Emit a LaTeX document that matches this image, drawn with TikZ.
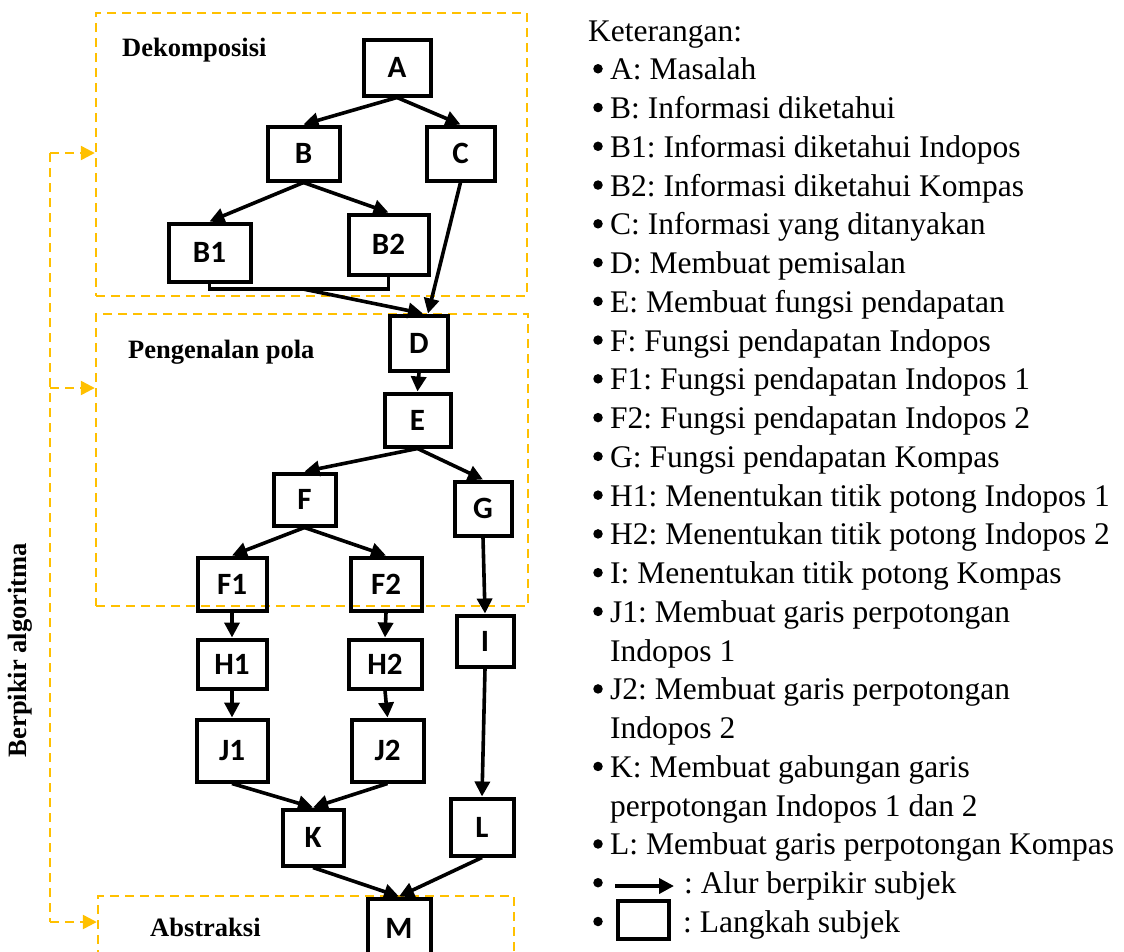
\documentclass[tikz,border=0pt]{standalone}
\usepackage{fontspec}
\setmainfont{Liberation Serif}
\newfontfamily\stepfont{Carlito}
\usetikzlibrary{arrows.meta}
\definecolor{phaseorange}{RGB}{255,192,0}
\frenchspacing

\begin{document}
\begin{tikzpicture}[
  x=1pt, y=-1pt,
  stepbox/.style={draw=black, line width=4pt, inner sep=0pt,
                  font=\stepfont\bfseries\fontsize{31}{31}\selectfont},
  phase/.style={draw=phaseorange, line width=2.4pt,
                dash pattern=on 9pt off 6pt, inner sep=0pt},
  phaselabel/.style={font=\bfseries\fontsize{26.5}{30}\selectfont,
                     anchor=base west, inner sep=0pt},
  flow/.style={-{Triangle[length=15pt,width=15pt]}, line width=3.6pt},
  joint/.style={line width=3.6pt},
  phasearrow/.style={-{Triangle[length=14pt,width=14pt]}, draw=phaseorange,
                     line width=2.4pt, dash pattern=on 9pt off 6pt},
  phaseline/.style={draw=phaseorange, line width=2.4pt,
                    dash pattern=on 9pt off 6pt},
  legend/.style={font=\fontsize{31.5}{38.76}\selectfont,
                 anchor=base west, inner sep=0pt},
  dot/.style={circle, fill=black, inner sep=0pt, minimum size=9.5pt}
]
\useasboundingbox (0,0) rectangle (1124,951);

% phases
\node[phase, minimum width=431, minimum height=283] (dekomp) at (311.5,154.5) {};
\node[phase, minimum width=432, minimum height=292] (pola) at (312,460) {};
\node[phase, minimum width=416, minimum height=74] (abstr) at (306,933) {};
\node[phaselabel] (dekomplabel) at (122,56) {Dekomposisi};
\node[phaselabel] (polalabel) at (128,358) {Pengenalan pola};
\node[phaselabel] (abstrlabel) at (150,936) {Abstraksi};
\node[font=\bfseries\fontsize{26.5}{30}\selectfont, rotate=90, inner sep=0pt]
  (algo) at (20,650) {Berpikir algoritma};

\coordinate (spinetop) at (50,153);
\coordinate (spinemid) at (50,388);
\coordinate (spinebot) at (50,922);
\draw[phaseline] (spinetop) -- (spinebot);
\draw[phasearrow] (spinetop) -- (dekomp.west |- spinetop);
\draw[phasearrow] (spinemid) -- (pola.west |- spinemid);
\draw[phasearrow] (spinebot) -- (abstr.west |- spinebot);

% steps
\foreach \name/\x/\y/\w/\h in {A/397/67.5/67/56, B/303.5/153.5/72/54,
    C/460.5/153.5/68/54, B1/209.5/252.5/82/58, B2/388.5/244.5/80/60,
    D/419/343/58/55, E/417.5/420/66/53, F/304.5/499.5/62/52,
    G/483/508.5/57/54, F1/232/584/69/53, F2/386/584/71/53,
    H1/232/664/69/49, H2/385/664/73/49, I/485/641/57/51,
    J1/232/750.5/71/62, J2/387.5/750.5/72/62, K/313/837.5/61/56,
    L/482/827/63/57, M/399/928/63/59}
  \node[stepbox, minimum width=\w, minimum height=\h] (\name) at (\x,\y) {\name};

\foreach \a/\b in {A/B, A/C, B/B1, B/B2, D/E, E/F, E/G, F/F1, F/F2, G/I,
    F1/H1, F2/H2, H1/J1, H2/J2, I/L, J1/K, J2/K, K/M, L/M}
  \draw[flow] (\a.south) -- (\b.north);

\coordinate (bjoin) at (303,289);
\draw[joint] (B1.south) |- (bjoin) -| (B2.south);
\draw[flow] (bjoin) -- ([xshift=4]D.north);
\draw[flow] (C.south) -- ([xshift=9]D.north);

% keterangan
\node[legend] (legtitle) at (588,41) {Keterangan:};
\foreach \k/\b/\txt in {1/1/{A: Masalah}, 2/1/{B: Informasi diketahui},
    3/1/{B1: Informasi diketahui Indopos}, 4/1/{B2: Informasi diketahui Kompas},
    5/1/{C: Informasi yang ditanyakan}, 6/1/{D: Membuat pemisalan},
    7/1/{E: Membuat fungsi pendapatan}, 8/1/{F: Fungsi pendapatan Indopos},
    9/1/{F1: Fungsi pendapatan Indopos 1}, 10/1/{F2: Fungsi pendapatan Indopos 2},
    11/1/{G: Fungsi pendapatan Kompas},
    12/1/{H1: Menentukan titik potong Indopos 1},
    13/1/{H2: Menentukan titik potong Indopos 2},
    14/1/{I: Menentukan titik potong Kompas},
    15/1/{J1: Membuat garis perpotongan}, 16/0/{Indopos 1},
    17/1/{J2: Membuat garis perpotongan}, 18/0/{Indopos 2},
    19/1/{K: Membuat gabungan garis}, 20/0/{perpotongan Indopos 1 dan 2},
    21/1/{L: Membuat garis perpotongan Kompas}}{
  \node[legend] (leg\k) at (610,41+38.76*\k) {\txt};
  \ifnum\b=1 \node[dot] (dot\k) at (598,30+38.76*\k) {}; \fi
}
\node[dot] (dot22) at (598,882.7) {};
\coordinate (keyfrom) at (615,886);
\coordinate (keyto) at (674,886);
\draw[flow] (keyfrom) -- (keyto);
\node[legend] (leg22) at (684,893.7) {: Alur berpikir subjek};
\node[dot] (dot23) at (598,921.5) {};
\node[stepbox, minimum width=51, minimum height=38] (keybox) at (643,920) {};
\node[legend] (leg23) at (683,932.5) {: Langkah subjek};
\end{tikzpicture}
\end{document}
